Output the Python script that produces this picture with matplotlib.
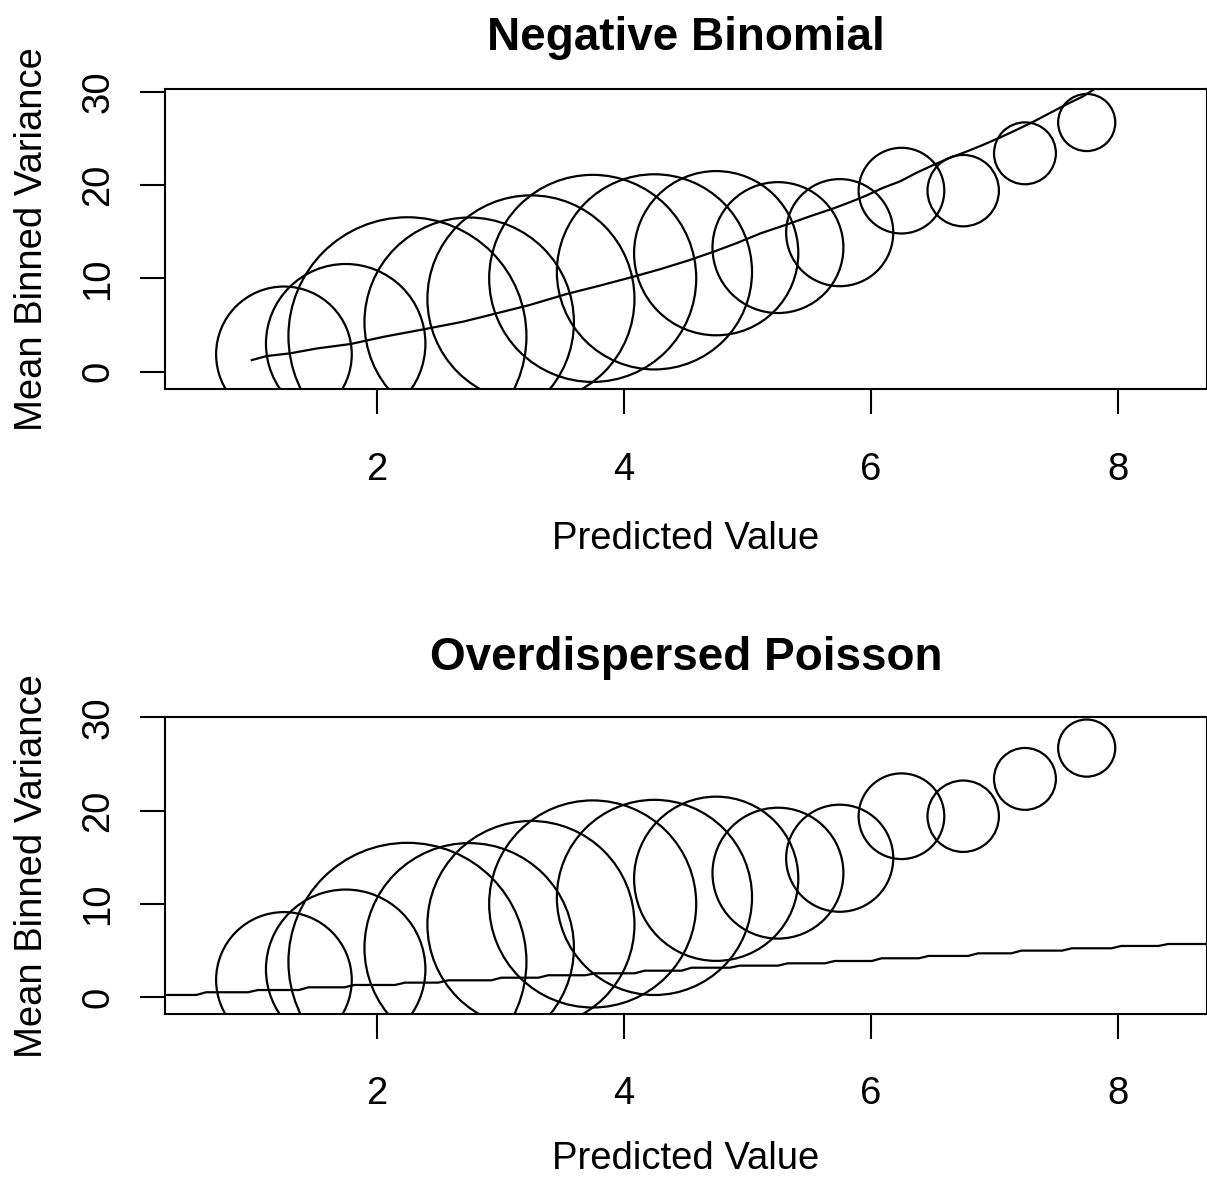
import matplotlib.pyplot as plt

plt.rcParams['font.family'] = ['Liberation Sans', 'DejaVu Sans']

# binned observations (same bins in both panels)
bin_mid = [1.25, 1.75, 2.25, 2.75, 3.25, 3.75, 4.25, 4.75, 5.25, 5.75, 6.25, 6.75, 7.25, 7.75]
bin_var = [1.86, 3.0, 3.8, 5.3, 7.8, 10.0, 10.7, 12.7, 13.3, 14.9, 19.4, 19.4, 23.4, 26.7]
bin_size = [0.57, 0.67, 1.0, 0.88, 0.87, 0.87, 0.82, 0.69, 0.55, 0.45, 0.36, 0.30, 0.26, 0.24]

# model variance curves
nb_x = [0.99, 1.11, 1.30, 1.52, 1.79, 2.06, 2.38, 2.70, 3.00, 3.24, 3.54, 3.80, 4.08, 4.30,
        4.52, 4.73, 4.92, 5.11, 5.35, 5.52, 5.70, 5.84, 5.97, 6.10, 6.24, 6.37, 6.50,
        6.64, 6.78, 6.91, 7.05, 7.18, 7.32, 7.45, 7.58, 7.72, 7.85]
nb_y = [1.25, 1.68, 1.97, 2.5, 2.97, 3.75, 4.54, 5.36, 6.35, 7.15, 8.33, 9.2, 10.18, 11.0,
        11.9, 12.86, 13.8, 14.83, 15.9, 16.7, 17.5, 18.2, 18.9, 19.7, 20.4, 21.3, 22.1,
        22.9, 23.6, 24.3, 25.1, 25.9, 26.8, 27.7, 28.6, 29.5, 30.6]

od_x = [0.20, 0.54, 0.62, 0.96, 1.04, 1.37, 1.45, 1.74, 1.82, 2.15, 2.23, 2.50, 2.58,
        2.93, 3.01, 3.31, 3.39, 3.69, 3.77, 4.09, 4.17, 4.47, 4.55, 4.86, 4.94, 5.25,
        5.33, 5.63, 5.71, 6.01, 6.09, 6.39, 6.47, 6.79, 6.87, 7.14, 7.22, 7.55, 7.63,
        7.95, 8.03, 8.33, 8.41, 8.80]
od_y = [0.25, 0.25, 0.54, 0.54, 0.78, 0.78, 1.07, 1.07, 1.32, 1.32, 1.57, 1.57, 1.82,
        1.82, 2.10, 2.10, 2.36, 2.36, 2.57, 2.57, 2.85, 2.85, 3.17, 3.17, 3.39, 3.39,
        3.64, 3.64, 3.89, 3.89, 4.18, 4.18, 4.43, 4.43, 4.71, 4.71, 5.00, 5.00, 5.25,
        5.25, 5.50, 5.50, 5.71, 5.71]

titles = ["Negative Binomial", "Overdispersed Poisson"]
x_ticks = [2, 4, 6, 8]
y_ticks = [0, 10, 20, 30]

W, H = 1207, 1177
fig = plt.figure(figsize=(W / 100, H / 100), dpi=100)

# pixel boxes: (left, top, right, bottom)
boxes = [(165, 89, 1206.5, 389), (165, 717.3, 1206.5, 1014)]
ylims = [(-1.85, 30.29), (-1.79, 30.0)]
title_pads = [28, 34]
xlab_offsets = [132, 127]
curves = [(nb_x, nb_y), (od_x, od_y)]

max_r_pt = 119 * 0.72  # biggest circle radius

for i in range(2):
    l, t, r, b = boxes[i]
    ax = fig.add_axes([l / W, 1 - b / H, (r - l) / W, (b - t) / H])
    ax.set_xlim(0.287, 8.72)
    ax.set_ylim(*ylims[i])

    sizes = [(2 * max_r_pt * s) ** 2 for s in bin_size]
    ax.scatter(bin_mid, bin_var, s=sizes, facecolors='none', edgecolors='black',
               linewidths=1.6, zorder=2)
    cx, cy = curves[i]
    ax.plot(cx, cy, color='black', lw=1.6, zorder=3)

    for sp in ax.spines.values():
        sp.set_linewidth(1.5)
    ax.set_xticks(x_ticks)
    ax.set_yticks(y_ticks)
    ax.tick_params(axis='both', length=18, width=1.5, labelsize=27.5, direction='out')
    ax.tick_params(axis='x', pad=27)
    ax.tick_params(axis='y', pad=17)
    for lab in ax.get_yticklabels():
        lab.set_rotation(90)
        lab.set_va('center')

    ax.set_title(titles[i], fontsize=33, fontweight='bold', pad=title_pads[i])
    ax.set_xlabel("Predicted Value", fontsize=27.5)
    ax.set_ylabel("Mean Binned Variance", fontsize=27.5)
    ax.xaxis.set_label_coords(0.5, -xlab_offsets[i] / (b - t))
    ax.yaxis.set_label_coords(-115 / (r - l), 0.5)

fig.savefig("out.png", dpi=100)
